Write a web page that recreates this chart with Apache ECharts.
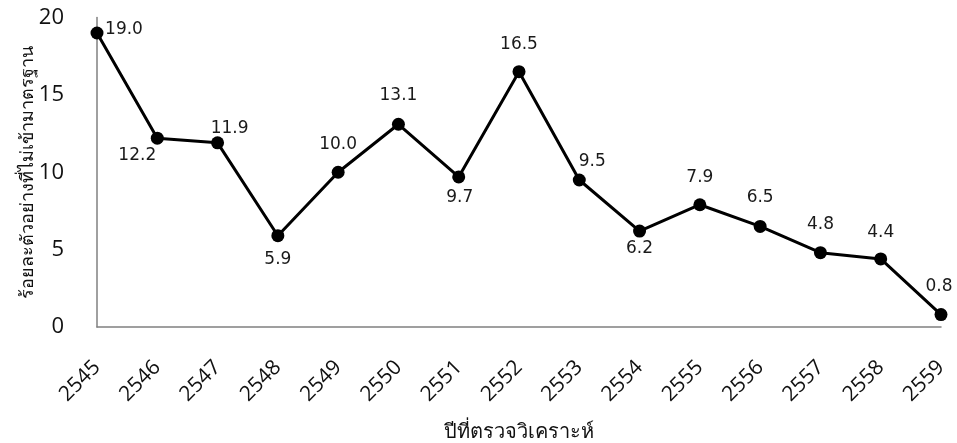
<!DOCTYPE html>
<html>
<head>
<meta charset="utf-8">
<script src="https://cdn.jsdelivr.net/npm/echarts@6/dist/echarts.min.js"></script>
<style>
html,body{margin:0;padding:0;background:#fff;}
#chart{width:957px;height:443px;}
</style>
</head>
<body>
<div id="chart"></div>
<script>
const categories = ['2545','2546','2547','2548','2549','2550','2551','2552','2553','2554','2555','2556','2557','2558','2559'];
const values = [19.0, 12.2, 11.9, 5.9, 10.0, 13.1, 9.7, 16.5, 9.5, 6.2, 7.9, 6.5, 4.8, 4.4, 0.8];
const yTicks = [0, 5, 10, 15, 20];
const xTitle = 'ปีที่ตรวจวิเคราะห์';
const yTitle = 'ร้อยละตัวอย่างที่ไม่เข้ามาตรฐาน';

// label placement (style only), per point index
const labelOffsets = [
  [27,-3],[-20,17],[12,-14],[0,24],[0,-28],[0,-29],[1,21],[0,-27],
  [13,-18],[0,18],[0,-27],[0,-29],[0,-28],[0,-26],[-2,-28]
];

const chart = echarts.init(document.getElementById('chart'), null, {renderer:'canvas'});
const seriesData = values.map((v,i) => ({
  value: v,
  label: { offset: labelOffsets[i] }
}));

chart.setOption({
  animation: false,
  backgroundColor: '#ffffff',
  grid: { left: 97, right: 16, top: 17.5, bottom: 116, containLabel: false, outerBoundsMode: 'none' },
  xAxis: {
    type: 'category',
    data: categories,
    boundaryGap: false,
    name: xTitle,
    nameLocation: 'middle',
    nameGap: 96,
    nameMoveOverlap: false,
    nameTextStyle: { fontFamily: 'Tahoma, "DejaVu Sans", sans-serif', fontSize: 20, color: '#111' },
    axisLine: { show: true, lineStyle: { color: '#808080', width: 1.5 } },
    axisTick: { show: false },
    axisLabel: { rotate: 45, margin: 37, fontFamily: '"Open Sans", Lato, sans-serif', fontSize: 21, color: '#111', interval: 0 },
    splitLine: { show: false }
  },
  yAxis: {
    type: 'value',
    min: yTicks[0],
    max: yTicks[yTicks.length-1],
    interval: yTicks[1]-yTicks[0],
    name: yTitle,
    nameLocation: 'middle',
    nameGap: 60,
    nameRotate: 90,
    nameMoveOverlap: false,
    nameTextStyle: { fontFamily: 'Tahoma, "DejaVu Sans", sans-serif', fontSize: 18, color: '#111' },
    axisLine: { show: true, lineStyle: { color: '#808080', width: 1.5 } },
    axisTick: { show: false },
    axisLabel: { margin: 33, fontFamily: '"Open Sans", Lato, sans-serif', fontSize: 22, color: '#111' },
    splitLine: { show: false }
  },
  series: [{
    type: 'line',
    data: seriesData,
    symbol: 'circle',
    symbolSize: 13,
    lineStyle: { color: '#000', width: 3 },
    itemStyle: { color: '#000' },
    label: {
      show: true,
      position: 'inside',
      fontFamily: '"DejaVu Sans", Tahoma, sans-serif',
      fontSize: 17,
      color: '#1a1a1a',
      formatter: p => p.value.toFixed(1)
    }
  }]
});
</script>
</body>
</html>
